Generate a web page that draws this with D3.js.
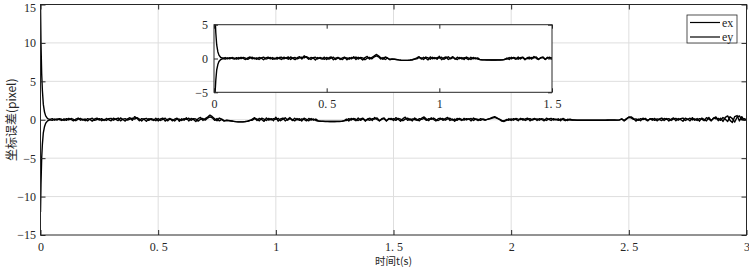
<!DOCTYPE html>
<meta charset="utf-8">
<style>
    body { margin: 0; background: #fff; }
    svg { display: block; }
    text { font-family: "Liberation Serif", "DejaVu Serif", serif; fill: #262626; }
    .cjk { font-family: "Noto Sans CJK SC", sans-serif; }
</style>
<svg width="749" height="268"></svg>
<script src="https://d3js.org/d3.v7.min.js"></script>
<script>

    // transient part, t = 0 .. 0.09
    var tHead  = [0, 0.002, 0.005, 0.008, 0.012, 0.017, 0.022, 0.03, 0.04, 0.05, 0.06, 0.07, 0.08, 0.09];
    var exHead = [15, 10, 6, 3.8, 2, 1, 0.5, 0.15, 0.05, 0.14, -0.06, 0.12, 0.03, -0.09];
    var eyHead = [-12, -8.5, -5, -3.2, -1.7, -0.9, -0.45, -0.15, 0, -0.08, 0.10, -0.05, 0.15, 0.06];

    // steady part, t = 0.10 .. 3.00 every 0.01 s
    var tStart = 0.10, tStep = 0.01;
    var exTail = [
        0.12,-0.08,0.18,0.03,-0.15,0.09,0.22,-0.06,0.08,-0.12,
        0.15,0.05,-0.18,0.10,0.21,-0.05,0.14,-0.09,0.17,0.00,
        -0.14,0.20,0.06,-0.11,0.24,0.03,-0.17,0.12,0.27,-0.08,
        0.40,0.18,-0.12,0.15,0.08,-0.21,0.14,0.03,-0.09,0.20,
        -0.15,0.11,0.22,-0.18,0.06,0.17,-0.14,0.09,0.21,-0.20,
        0.12,-0.06,0.25,-0.15,0.18,0.05,-0.22,0.14,0.30,-0.09,
        0.15,0.35,0.60,0.40,0.12,-0.12,0.22,0.08,-0.18,-0.07,
        -0.10,-0.15,-0.20,-0.24,-0.27,-0.28,-0.27,-0.24,-0.19,-0.10,
        0.08,0.27,-0.09,0.18,0.03,-0.21,0.24,-0.05,0.15,-0.12,
        0.33,-0.18,0.12,0.22,-0.15,0.06,0.28,-0.10,0.20,-0.03,
        0.14,-0.16,0.21,0.05,-0.14,0.16,-0.06,0.09,-0.15,-0.19,
        -0.20,-0.21,-0.21,-0.22,-0.22,-0.22,-0.21,-0.21,-0.20,-0.15,
        0.08,-0.15,0.18,0.05,-0.12,0.22,-0.08,0.15,-0.18,0.12,
        0.21,-0.09,0.30,0.03,-0.16,0.14,0.24,-0.12,0.08,0.18,
        -0.10,0.27,0.06,-0.20,0.15,0.33,-0.08,0.12,-0.15,0.22,
        0.05,-0.14,0.20,0.37,0.09,-0.12,0.25,0.03,-0.16,0.14,
        0.21,-0.08,0.15,0.31,-0.10,0.09,-0.20,0.16,0.05,-0.09,
        0.18,-0.03,0.12,-0.15,0.22,0.06,-0.10,0.15,0.03,-0.06,
        0.09,0.18,0.30,0.40,0.25,0.03,-0.18,-0.22,-0.08,0.12,
        -0.09,0.15,0.05,-0.12,0.18,-0.05,0.10,0.21,-0.14,0.08,
        0.16,-0.10,0.14,0.03,-0.15,0.20,0.06,-0.09,0.15,-0.03,
        0.12,-0.14,0.18,0.02,-0.10,0.09,-0.03,-0.04,-0.05,-0.05,
        -0.05,-0.05,-0.06,-0.06,-0.06,-0.06,-0.05,-0.05,-0.05,-0.05,
        -0.05,-0.04,-0.04,-0.04,-0.04,-0.05,-0.03,0.12,-0.15,0.08,
        0.35,0.38,0.15,-0.18,0.09,-0.12,0.21,0.03,-0.15,0.14,
        -0.06,0.18,-0.14,0.10,0.22,-0.09,0.15,-0.16,0.08,0.24,
        -0.12,0.16,0.03,-0.20,0.21,0.09,-0.14,0.27,-0.06,0.15,
        -0.18,0.22,0.05,-0.15,0.30,-0.09,0.18,0.37,-0.12,0.21,
        -0.22,0.30,0.50,-0.08,-0.35,0.42,0.55,-0.15,0.40,-0.08,
        0.05
    ];
    var eyTail = [
        -0.09,0.14,-0.03,0.16,0.05,-0.12,0.08,0.18,-0.06,0.10,
        -0.15,0.09,0.20,-0.08,0.03,0.15,-0.12,0.06,-0.09,0.14,
        0.18,-0.06,0.10,0.22,-0.14,0.08,0.15,-0.05,0.09,0.21,
        0.08,0.28,0.09,-0.15,0.12,0.18,-0.08,0.15,0.05,-0.12,
        0.16,-0.09,0.06,0.20,-0.14,0.10,0.03,-0.16,0.12,0.08,
        -0.10,0.15,0.05,0.21,-0.08,0.14,0.09,-0.18,0.06,0.16,
        -0.05,0.22,0.38,0.25,-0.08,0.15,-0.15,0.05,-0.12,-0.09,
        -0.12,-0.16,-0.21,-0.25,-0.27,-0.28,-0.27,-0.23,-0.18,-0.08,
        -0.06,0.15,0.09,-0.14,0.21,0.08,-0.10,0.18,-0.03,0.14,
        0.06,0.18,-0.12,0.08,0.25,-0.06,0.14,0.03,-0.15,0.16,
        -0.08,0.12,0.03,-0.15,0.18,-0.05,0.10,-0.10,-0.16,-0.20,
        -0.21,-0.22,-0.22,-0.23,-0.23,-0.23,-0.22,-0.22,-0.21,-0.12,
        -0.09,0.14,-0.05,0.16,0.06,-0.10,0.12,0.20,-0.08,0.03,
        -0.06,0.15,0.08,0.24,-0.10,0.05,0.14,-0.15,0.18,0.02,
        0.14,-0.08,0.18,0.09,-0.12,0.08,0.21,-0.05,0.10,0.03,
        -0.09,0.15,0.06,0.18,-0.08,0.14,0.05,0.22,0.02,-0.10,
        0.08,0.16,-0.06,0.12,0.20,-0.05,0.09,-0.08,0.18,0.06,
        -0.05,0.14,0.08,0.16,-0.09,0.12,0.03,-0.08,0.10,0.00,
        0.05,0.12,0.22,0.30,0.18,0.08,-0.09,-0.15,0.03,-0.06,
        0.10,-0.06,0.16,0.08,0.03,0.14,-0.09,0.06,0.15,-0.05,
        0.08,0.12,-0.06,0.15,0.05,-0.09,0.10,0.18,-0.03,0.09,
        -0.08,0.09,0.03,-0.12,0.06,-0.03,-0.04,-0.05,-0.06,-0.06,
        -0.06,-0.07,-0.07,-0.07,-0.07,-0.07,-0.07,-0.06,-0.06,-0.06,
        -0.06,-0.06,-0.05,-0.05,-0.05,-0.05,-0.02,0.08,-0.09,0.15,
        0.30,0.25,0.05,0.12,-0.08,0.15,0.03,0.18,-0.06,0.09,
        0.15,-0.08,0.12,0.03,-0.10,0.16,0.06,0.14,-0.09,0.10,
        0.18,-0.06,0.14,0.22,-0.09,0.06,0.20,-0.03,0.12,-0.10,
        0.15,0.08,-0.12,0.27,0.09,-0.15,0.24,0.12,0.18,-0.08,
        0.30,0.08,-0.22,0.40,0.15,-0.30,0.33,0.50,0.03,0.15,
        0.00
    ];

    var seriesNames = ["ex", "ey"];
    var xTicks = [0, 0.5, 1, 1.5, 2, 2.5, 3];
    var yTicks = [-15, -10, -5, 0, 5, 10, 15];
    var insetXTicks = [0, 0.5, 1, 1.5];
    var insetYTicks = [-5, 0, 5];
    var xLabel = "时间t(s)";
    var yLabel = "坐标误差(pixel)";

    function build(head, tail) {
        var pts = head.map(function(v, i) { return {t: tHead[i], v: v}; });
        tail.forEach(function(v, i) { pts.push({t: +(tStart + i * tStep).toFixed(3), v: v}); });
        return pts;
    }
    var data = [build(exHead, exTail), build(eyHead, eyTail)];

    var axisColor = "#262626", gridColor = "#dedede";
    var fmt = function(d) { return String(d).replace(".", ". ").replace("-", "\u2212"); };

    var svg = d3.select("svg"),
        margin = {top: 4.5, right: 2.5, bottom: 33, left: 40.5},
        width = +svg.attr("width") - margin.left - margin.right,
        height = +svg.attr("height") - margin.top - margin.bottom,
        g = svg.append("g").attr("transform", "translate(" + margin.left + "," + margin.top + ")");

    var x = d3.scaleLinear().domain([0, 3]).range([0, width]);
    var y = d3.scaleLinear().domain([-15, 15]).range([height, 0]);

    // grid
    g.append("g").selectAll("line").data(xTicks.slice(1, -1)).enter().append("line")
        .attr("x1", x).attr("x2", x).attr("y1", 0).attr("y2", height)
        .attr("stroke", gridColor).attr("stroke-width", 1);
    g.append("g").selectAll("line").data(yTicks.slice(1, -1)).enter().append("line")
        .attr("y1", y).attr("y2", y).attr("x1", 0).attr("x2", width)
        .attr("stroke", gridColor).attr("stroke-width", 1);

    var line = d3.line().x(function(d) { return x(d.t); }).y(function(d) { return y(d.v); });

    g.append("defs").append("clipPath").attr("id", "clipMain")
        .append("rect").attr("width", width).attr("height", height);

    g.append("g").attr("clip-path", "url(#clipMain)")
        .selectAll("path").data(data).enter().append("path")
        .attr("d", line).attr("fill", "none").attr("stroke", "#000").attr("stroke-width", 1.4)
        .attr("stroke-linejoin", "round");

    // axes (ticks inward, box)
    function styleAxis(sel) {
        sel.select(".domain").remove();
        sel.selectAll(".tick line").attr("stroke", axisColor);
        sel.selectAll(".tick text").attr("fill", axisColor).style("font-size", "12px")
            .style("font-family", "'Liberation Serif', serif");
    }
    g.append("g").attr("transform", "translate(0," + height + ")")
        .call(d3.axisBottom(x).tickValues(xTicks).tickSizeInner(-5).tickSizeOuter(0).tickPadding(7).tickFormat(fmt))
        .call(styleAxis);
    g.append("g")
        .call(d3.axisTop(x).tickValues(xTicks).tickSizeInner(-5).tickSizeOuter(0).tickFormat(""))
        .call(styleAxis);
    g.append("g")
        .call(d3.axisLeft(y).tickValues(yTicks).tickSizeInner(-5).tickSizeOuter(0).tickPadding(4.5).tickFormat(fmt))
        .call(styleAxis)
        .selectAll(".tick text").filter(function(d) { return d === 15; }).attr("dy", "0.55em");
    g.append("g").attr("transform", "translate(" + width + ",0)")
        .call(d3.axisRight(y).tickValues(yTicks).tickSizeInner(-5).tickSizeOuter(0).tickFormat(""))
        .call(styleAxis);
    g.append("rect").attr("width", width).attr("height", height)
        .attr("fill", "none").attr("stroke", axisColor).attr("stroke-width", 1);

    // labels
    g.append("text").attr("class", "cjk")
        .attr("x", width / 2).attr("y", height + 30)
        .attr("text-anchor", "middle").style("font-size", "10.5px").text(xLabel);
    g.append("text").attr("class", "cjk")
        .attr("transform", "translate(" + (-24.5) + "," + (height / 2) + ") rotate(-90)")
        .attr("text-anchor", "middle").style("font-size", "12px").text(yLabel);

    // inset
    var ix = d3.scaleLinear().domain([0, 1.5]).range([214, 552]);
    var iy = d3.scaleLinear().domain([-5, 5]).range([92.3, 24.7]);
    var inset = svg.append("g");
    inset.append("rect").attr("x", 214).attr("y", 24.7).attr("width", 338).attr("height", 67.6)
        .attr("fill", "#fff");
    inset.append("defs").append("clipPath").attr("id", "clipInset")
        .append("rect").attr("x", 214).attr("y", 24.7).attr("width", 338).attr("height", 67.6);
    var iline = d3.line().x(function(d) { return ix(d.t); }).y(function(d) { return iy(d.v); });
    inset.append("g").attr("clip-path", "url(#clipInset)")
        .selectAll("path").data(data.map(function(s) { return s.filter(function(d) { return d.t <= 1.5; }); }))
        .enter().append("path")
        .attr("d", iline).attr("fill", "none").attr("stroke", "#000").attr("stroke-width", 1.4)
        .attr("stroke-linejoin", "round");
    inset.append("g").attr("transform", "translate(0,92.3)")
        .call(d3.axisBottom(ix).tickValues(insetXTicks).tickSizeInner(-4).tickSizeOuter(0).tickPadding(7).tickFormat(fmt))
        .call(styleAxis);
    inset.append("g").attr("transform", "translate(0,24.7)")
        .call(d3.axisTop(ix).tickValues(insetXTicks).tickSizeInner(-4).tickSizeOuter(0).tickFormat(""))
        .call(styleAxis);
    inset.append("g").attr("transform", "translate(214,0)")
        .call(d3.axisLeft(iy).tickValues(insetYTicks).tickSizeInner(-4).tickSizeOuter(0).tickPadding(6).tickFormat(fmt))
        .call(styleAxis);
    inset.append("g").attr("transform", "translate(552,0)")
        .call(d3.axisRight(iy).tickValues(insetYTicks).tickSizeInner(-4).tickSizeOuter(0).tickFormat(""))
        .call(styleAxis);
    inset.append("rect").attr("x", 214).attr("y", 24.7).attr("width", 338).attr("height", 67.6)
        .attr("fill", "none").attr("stroke", axisColor).attr("stroke-width", 1);

    // legend
    var legend = svg.append("g").attr("transform", "translate(687,15)");
    legend.append("rect").attr("width", 50).attr("height", 28)
        .attr("fill", "#fff").attr("stroke", axisColor).attr("stroke-width", 0.8);
    var li = legend.selectAll("g.item").data(seriesNames).enter().append("g")
        .attr("transform", function(d, i) { return "translate(0," + (7.5 + i * 14.5) + ")"; });
    li.append("line").attr("x1", 3).attr("x2", 33).attr("stroke", "#000").attr("stroke-width", 1.2);
    li.append("text").attr("x", 35).attr("dy", "0.35em").style("font-size", "12px")
        .text(function(d) { return d; });

</script>
